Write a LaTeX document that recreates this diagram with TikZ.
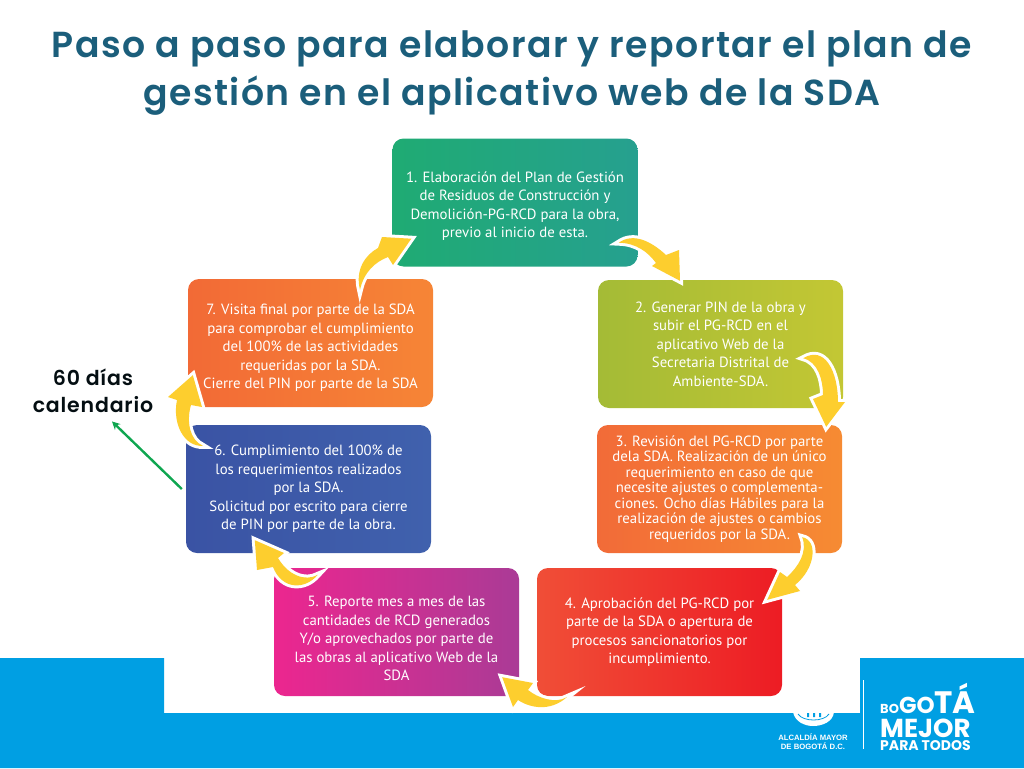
\documentclass[tikz,border=0pt]{standalone}
\usepackage{fontspec}
\setmainfont{PT Sans}
\newfontfamily\titlefont[LetterSpace=4]{Poppins SemiBold}
\newfontfamily\brandfont{Poppins}
\newfontfamily\logofont{Liberation Sans}
\usetikzlibrary{arrows.meta,calc}
\definecolor{bandblue}{HTML}{009FE3}
\definecolor{titleblue}{HTML}{1B5E7B}
\definecolor{arrowyellow}{HTML}{FDCE2E}
\definecolor{markgreen}{HTML}{0FA650}
\definecolor{a1}{HTML}{1FAB73}\definecolor{b1}{HTML}{26A08F}
\definecolor{a2}{HTML}{A4BB36}\definecolor{b2}{HTML}{C3C734}
\definecolor{a3}{HTML}{F26B38}\definecolor{b3}{HTML}{F68B33}
\definecolor{a4}{HTML}{F04E37}\definecolor{b4}{HTML}{ED1C24}
\definecolor{a5}{HTML}{EC268F}\definecolor{b5}{HTML}{AA3B96}
\definecolor{a6}{HTML}{3A53A4}\definecolor{b6}{HTML}{4061AD}
\definecolor{a7}{HTML}{F26A36}\definecolor{b7}{HTML}{F68536}
\tikzstyle{stepbox}=[rounded corners=11pt,minimum width=245pt,minimum height=128pt,inner sep=0pt,text=white,align=center]
\tikzstyle{flow}=[fill=arrowyellow,line join=round,preaction={draw=white,line width=6pt}]
\tikzstyle{logotext}=[text=white,inner sep=0pt,align=center]

\begin{document}
\begin{tikzpicture}[x=1pt,y=-1pt]
    \useasboundingbox (0,0) rectangle (1024,768);
    % Blue band behind the diagram
    \fill[bandblue] (0,658) -- (164,658) -- (164,713) -- (860,713) -- (860,658) -- (1024,658) -- (1024,768) -- (0,768) -- cycle;

    \node[text=titleblue,align=center,font=\titlefont\fontsize{36.2}{48}\selectfont] (title) at (512,73)
        {Paso a paso para elaborar y reportar el plan de\\gesti\'on en el aplicativo web de la SDA};

    % First we draw the steps
    \foreach \pos/\name/\num/\lead/\txt in {
        {(515,202.5)/step1/1/18.5/{\rule{0pt}{17.5pt}1. Elaboraci\'on del Plan de Gesti\'on\\de Residuos de Construcci\'on y\\Demolici\'on-PG-RCD para la obra,\\previo al inicio de esta.}},
        {(720.5,344)/step2/2/18.5/{2. Generar PIN de la obra y\\subir el PG-RCD en el\\aplicativo Web de la\\Secretaria Distrital de\\Ambiente-SDA.}},
        {(719.5,489)/step3/3/15.5/{3. Revisi\'on del PG-RCD por parte\\dela SDA. Realizaci\'on de un \'unico\\requerimiento en caso de que\\necesite ajustes o complementa-\\ciones. Ocho d\'ias H\'abiles para la\\realizaci\'on de ajustes o cambios\\requeridos por la SDA.}},
        {(659.5,632)/step4/4/18.5/{4. Aprobaci\'on del PG-RCD por\\parte de la SDA o apertura de\\procesos sancionatorios por\\incumplimiento.}},
        {(396.5,632)/step5/5/18.5/{\rule{0pt}{24pt}5. Reporte mes a mes de las\\cantidades de RCD generados\\Y/o aprovechados por parte de\\las obras al aplicativo Web de la\\SDA}},
        {(308.5,489)/step6/6/18.5/{6. Cumplimiento del 100\% de\\los requerimientos realizados\\por la SDA.\\Solicitud por escrito para cierre\\de PIN por parte de la obra.}},
        {(310.5,343)/step7/7/18.5/{\rule{0pt}{20.5pt}7. Visita final por parte de la SDA\\para comprobar el cumplimiento\\del 100\% de las actividades\\requeridas por la SDA.\\Cierre del PIN por parte de la SDA}}}
        \node[stepbox,left color=a\num,right color=b\num,font=\fontsize{14.8}{\lead}\selectfont] (\name) at \pos {\txt};

    % Tail and tip of each yellow arrow hang on the boxes
    \coordinate (tail1) at ($(step1.south east)+(-19,-24)$);
    \coordinate (tip1) at ($(step2.north)+(-40.5,1)$);
    \coordinate (tail2) at ($(step2.south east)+(-40,-50)$);
    \coordinate (tip2) at ($(step3.north east)+(-16,2)$);
    \coordinate (tail3) at ($(step3.south east)+(-40,-16)$);
    \coordinate (tip3) at ($(step4.north east)+(-15,32)$);
    \coordinate (tail4) at ($(step4.south west)+(30,1)$);
    \coordinate (tip4) at ($(step5.south east)+(-17,-19)$);
    \coordinate (tail5) at ($(step5.north west)+(44,7)$);
    \coordinate (tip5) at ($(step6.south west)+(69,-13)$);
    \coordinate (tail6) at ($(step6.north west)+(17,21)$);
    \coordinate (tip6) at ($(step7.south west)+(5,-32)$);
    \coordinate (tail7) at ($(step7.north)+(49.5,11)$);
    \coordinate (tip7) at ($(step1.south west)+(19,-28)$);

    % Connect the steps with arrows
    \path[flow] (tail1) .. controls (634,232) and (652,242) .. (666,255) -- (679,250) -- (tip1) -- (652,266) -- (656,263) .. controls (648,252) and (636,243) .. cycle;
    \path[flow] (tail2) .. controls (825,345) and (838,372) .. (838,402) -- (845,402) -- (tip2) -- (813,399) -- (823,395) .. controls (823,380) and (818,362) .. cycle;
    \path[flow] (tail3) .. controls (818,540) and (816,568) .. (795,585) -- (800,591) -- (tip3) -- (780,572) -- (787,577) .. controls (798,567) and (808,552) .. cycle;
    \path[flow] (tail4) .. controls (555,704) and (538,698) .. (528,690) -- (533,683) -- (tip4) -- (513,707) -- (518,700) .. controls (530,708) and (550,712) .. cycle;
    \path[flow] (tail5) .. controls (305,582) and (288,575) .. (278,558) -- (284,553) -- (tip5) -- (257,570) -- (273,567) .. controls (282,590) and (305,590) .. cycle;
    \path[flow] (tail6) .. controls (185,447) and (172,425) .. (177,400) -- (168,397) -- (tip6) -- (202,407) -- (191,405) .. controls (186,422) and (190,440) .. cycle;
    \path[flow] (tail7) .. controls (355,270) and (365,255) .. (378,248) -- (382,237) -- (tip7) -- (393,265) -- (388,257) .. controls (375,262) and (364,272) .. cycle;

    % Note on the left with its green arrow
    \node[text=black!85!titleblue,align=center,font=\titlefont\fontsize{20.5}{27}\selectfont] (note) at (93,391) {60 d\'ias\\calendario};
    \coordinate (markstart) at ($(step6.west)+(-4,0)$);
    \coordinate (markend) at ($(note.south)+(19,5)$);
    \draw[markgreen,line width=2.4pt,-{Stealth[length=8pt,width=8pt]}] (markstart) -- (markend);

    % Crest and logos in the band
    \fill[white] (793,712) .. controls (795,722) and (805,726) .. (813,726) .. controls (822,726) and (833,722) .. (834,712) -- cycle;
    \draw[bandblue,line width=0.8pt] (798,714) .. controls (803,722) and (824,722) .. (829,714);
    \fill[bandblue] (807,713) rectangle (809,717) (813,713) rectangle (815,717) (819,713) rectangle (821,717);
    \node[logotext,font=\logofont\bfseries\fontsize{7.7}{9.2}\selectfont] (alcaldia) at (813,742) {ALCALD\'IA MAYOR\\DE BOGOT\'A D.C.};
    \draw[white,line width=1pt] (863,680) -- (863,749);
    \node[logotext,anchor=base west,font=\brandfont\bfseries] (bogota) at (880,713) {\fontsize{13}{13}\selectfont BO\fontsize{23}{23}\selectfont GO\fontsize{31}{31}\selectfont T\'A};
    \node[logotext,anchor=base west,font=\brandfont\bfseries\fontsize{26}{26}\selectfont] (mejor) at (880,737) {MEJOR};
    \node[logotext,anchor=base west,font=\brandfont\bfseries\fontsize{14}{14}\selectfont] (todos) at (880,750) {PARA TODOS};
\end{tikzpicture}
\end{document}
